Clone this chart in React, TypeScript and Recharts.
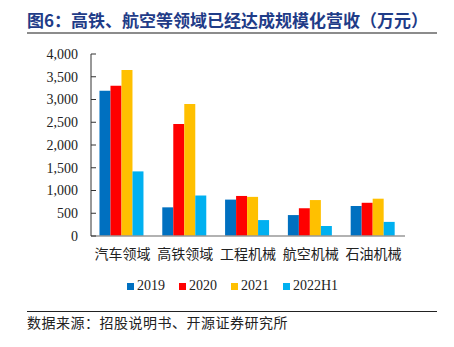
import { BarChart, Bar, XAxis, YAxis } from 'recharts';

const categories = ['汽车领域', '高铁领域', '工程机械', '航空机械', '石油机械'];
const v2019 = [3190, 630, 800, 460, 660];
const v2020 = [3300, 2460, 880, 610, 730];
const v2021 = [3650, 2900, 860, 790, 820];
const v2022H1 = [1420, 890, 350, 220, 310];
const yTicks = [0, 500, 1000, 1500, 2000, 2500, 3000, 3500, 4000];
const dividerTicks = [1, 2, 3, 4, 5];

const series = [
    { key: 'y2019', name: '2019', color: '#0070C0' },
    { key: 'y2020', name: '2020', color: '#FF0000' },
    { key: 'y2021', name: '2021', color: '#FFC000' },
    { key: 'y2022H1', name: '2022H1', color: '#00B0F0' },
];

const data = categories.map((name, i) => ({
    name,
    y2019: v2019[i],
    y2020: v2020[i],
    y2021: v2021[i],
    y2022H1: v2022H1[i],
}));

const serif = '"Liberation Serif", "Noto Sans CJK SC", serif';

export default function App() {
    return (
        <div style={{ position: 'absolute', left: 0, top: 0, width: 454, height: 347, background: '#fff', fontFamily: serif }}>
            {/* title */}
            <div style={{
                position: 'absolute', left: 27, top: 9, fontSize: 17, fontWeight: 'bold',
                color: '#1F3C88', fontFamily: '"Noto Sans CJK SC", sans-serif', lineHeight: '22px', whiteSpace: 'nowrap',
            }}>
                图6：高铁、航空等领域已经达成规模化营收（万元）
            </div>
            <div style={{ position: 'absolute', left: 27, top: 32, width: 410, height: 2, background: '#8c8c8c' }} />

            <BarChart
                width={454}
                height={347}
                data={data}
                margin={{ top: 54, right: 49, bottom: 81, left: 31 }}
                barCategoryGap="13.5%"
                barGap={0}
                style={{ position: 'absolute', left: 0, top: 0 }}
            >
                <XAxis
                    xAxisId="div"
                    type="number"
                    domain={[0, 5]}
                    ticks={dividerTicks}
                    allowDataOverflow
                    mirror
                    height={1}
                    tick={false}
                    axisLine={false}
                    tickLine={{ stroke: '#333', strokeWidth: 1 }}
                    tickSize={4}
                />
                <XAxis
                    xAxisId="cat"
                    dataKey="name"
                    height={30}
                    axisLine={{ stroke: '#999', strokeWidth: 1.5 }}
                    tickLine={false}
                    tickMargin={7}
                    tick={{ fontSize: 14, fill: '#222', fontFamily: serif }}
                    interval={0}
                />
                <YAxis
                    width={60}
                    domain={[0, 4000]}
                    ticks={yTicks}
                    interval={0}
                    axisLine={{ stroke: '#333', strokeWidth: 1 }}
                    tickLine={{ stroke: '#333', strokeWidth: 1 }}
                    tickSize={-5}
                    tickMargin={18}
                    tickFormatter={(v: number) => v.toLocaleString('en-US')}
                    tick={{ fontSize: 14, fill: '#222', fontFamily: serif }}
                />
                {series.map(s => (
                    <Bar key={s.key} xAxisId="cat" dataKey={s.key} name={s.name} fill={s.color} isAnimationActive={false} />
                ))}
            </BarChart>

            {/* legend */}
            <div style={{ position: 'absolute', left: 127, top: 277, display: 'flex', alignItems: 'center', fontSize: 14, color: '#222', lineHeight: '18px' }}>
                {series.map(s => (
                    <div key={s.key} style={{ display: 'flex', alignItems: 'center', marginRight: 14 }}>
                        <span style={{ display: 'inline-block', width: 7, height: 7, background: s.color, marginRight: 3 }} />
                        <span>{s.name}</span>
                    </div>
                ))}
            </div>

            {/* source */}
            <div style={{ position: 'absolute', left: 27, top: 311, width: 410, height: 1, background: '#222' }} />
            <div style={{ position: 'absolute', left: 27, top: 315, fontSize: 14, letterSpacing: 0.5, color: '#222', lineHeight: '18px', whiteSpace: 'nowrap' }}>
                数据来源：招股说明书、开源证券研究所
            </div>
        </div>
    );
}
